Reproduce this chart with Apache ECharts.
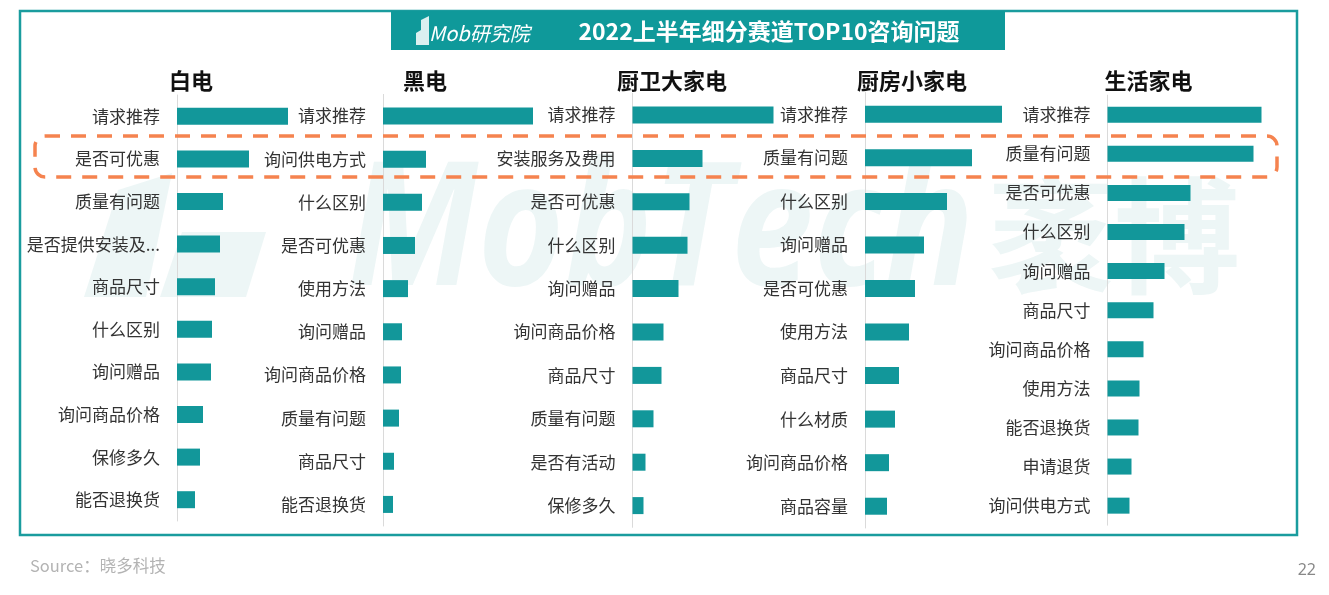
<!DOCTYPE html>
<html>
<head>
<meta charset="utf-8">
<script src="https://cdn.jsdelivr.net/npm/echarts@6/dist/echarts.min.js"></script>
<style>
html,body{margin:0;padding:0;background:#fff;}
#main{width:1329px;height:595px;}
</style>
</head>
<body>
<div id="main"></div>
<script>
const panelTitles = ['白电', '黑电', '厨卫大家电', '厨房小家电', '生活家电'];

const cat1 = ['请求推荐','是否可优惠','质量有问题','是否提供安装及...','商品尺寸','什么区别','询问赠品','询问商品价格','保修多久','能否退换货'];
const val1 = [111, 72, 46, 43, 38, 35, 34, 26, 23, 18];

const cat2 = ['请求推荐','询问供电方式','什么区别','是否可优惠','使用方法','询问赠品','询问商品价格','质量有问题','商品尺寸','能否退换货'];
const val2 = [150, 43, 39, 32, 25, 19, 18, 16, 11, 10];

const cat3 = ['请求推荐','安装服务及费用','是否可优惠','什么区别','询问赠品','询问商品价格','商品尺寸','质量有问题','是否有活动','保修多久'];
const val3 = [141, 70, 57, 55, 46, 31, 29, 21, 13, 11];

const cat4 = ['请求推荐','质量有问题','什么区别','询问赠品','是否可优惠','使用方法','商品尺寸','什么材质','询问商品价格','商品容量'];
const val4 = [137, 107, 82, 59, 50, 44, 34, 30, 24, 22];

const cat5 = ['请求推荐','质量有问题','是否可优惠','什么区别','询问赠品','商品尺寸','询问商品价格','使用方法','能否退换货','申请退货','询问供电方式'];
const val5 = [154, 146, 83, 77, 57, 46, 36, 32, 31, 24, 22];

const mainTitle = '2022上半年细分赛道TOP10咨询问题';
const sourceText = 'Source：晓多科技';
const pageNo = '22';

const cats = [cat1, cat2, cat3, cat4, cat5];
const vals = [val1, val2, val3, val4, val5];

const gridDefs = [
  {left: 177, top: 95, height: 426},
  {left: 383, top: 94.4, height: 431.6},
  {left: 632.5, top: 93.3, height: 434},
  {left: 865, top: 92.5, height: 435.5},
  {left: 1107.5, top: 95.2, height: 430}
];
const titleCenters = [191, 425, 672, 912, 1148.5];

const FONT = '"Noto Sans CJK SC", "Noto Sans", sans-serif';
const BAR = '#12979a';
const TEAL = '#1a9c9e';
const WM = 'rgba(20,140,140,0.075)';

const grids = [], xAxes = [], yAxes = [], series = [];
for (let i = 0; i < 5; i++) {
  grids.push({left: gridDefs[i].left, top: gridDefs[i].top, height: gridDefs[i].height, width: 170, containLabel: false});
  xAxes.push({type: 'value', gridIndex: i, min: 0, max: 170, show: false});
  yAxes.push({
    type: 'category', gridIndex: i, inverse: true, data: cats[i],
    axisLine: {show: true, lineStyle: {color: '#dadada', width: 1}},
    axisTick: {show: false},
    splitLine: {show: false},
    axisLabel: {color: '#333', fontSize: 17, fontFamily: FONT, margin: 17}
  });
  series.push({
    type: 'bar', xAxisIndex: i, yAxisIndex: i, data: vals[i],
    barWidth: i === 4 ? 16 : 17,
    itemStyle: {color: BAR},
    silent: true
  });
}

const graphics = [
  // watermark logo + text
  {type: 'polygon', z: -10, silent: true,
   shape: {points: [[84, 297], [118, 190], [172, 173], [146, 297]]}, style: {fill: WM}},
  {type: 'polygon', z: -10, silent: true,
   shape: {points: [[160, 297], [182, 232], [266, 232], [246, 297]]}, style: {fill: WM}},
  {type: 'text', x: 305, y: 236, z: -10, silent: true, scaleX: 0.86, originX: 305, originY: 236,
   style: {text: 'MobTech', font: 'italic bold 172px "Open Sans", sans-serif', fill: WM, textVerticalAlign: 'middle'}},
  {type: 'text', x: 988, y: 236, z: -10, silent: true,
   style: {text: '袤博', font: 'bold 126px "Noto Sans CJK SC", sans-serif', fill: WM, textVerticalAlign: 'middle'}},
  // frame
  {type: 'rect', shape: {x: 20, y: 11, width: 1277, height: 524}, silent: true, z: 1,
   style: {fill: 'none', stroke: TEAL, lineWidth: 2.5}},
  // title bar
  {type: 'rect', shape: {x: 391, y: 11, width: 614, height: 39}, silent: true, z: 2,
   style: {fill: '#0f999a'}},
  {type: 'text', x: 769, y: 31, silent: true, z: 3,
   style: {text: mainTitle, fill: '#fff', font: 'bold 23px "Noto Sans CJK SC", sans-serif', textAlign: 'center', textVerticalAlign: 'middle'}},
  // logo
  {type: 'polygon', shape: {points: [[416, 45], [416, 33], [421, 30], [421, 20], [429, 16], [429, 45]]}, silent: true, z: 3,
   style: {fill: 'rgba(255,255,255,0.85)'}},
  {type: 'text', x: 429, y: 33, silent: true, z: 3,
   style: {text: 'Mob研究院', fill: '#fff', font: 'italic 20px "Noto Sans CJK SC", sans-serif', textVerticalAlign: 'middle'}},
  // dashed highlight
  {type: 'rect', shape: {x: 35, y: 136, width: 1242, height: 41, r: 10}, silent: true, z: 20,
   style: {fill: 'none', stroke: '#f5834f', lineWidth: 3.5, lineDash: [15, 11]}},
  // footer
  {type: 'text', x: 30, y: 566, silent: true,
   style: {text: sourceText, fill: '#b3b3b3', font: '16.5px "Noto Sans CJK SC", sans-serif', textVerticalAlign: 'middle'}},
  {type: 'text', x: 1316, y: 570, silent: true,
   style: {text: pageNo, fill: '#888', font: '16px "Noto Sans", sans-serif', textAlign: 'right', textVerticalAlign: 'middle'}}
];
for (let i = 0; i < 5; i++) {
  graphics.push({type: 'text', x: titleCenters[i], y: 81, silent: true, z: 5,
    style: {text: panelTitles[i], fill: '#111', font: 'bold 22px "Noto Sans CJK SC", sans-serif', textAlign: 'center', textVerticalAlign: 'middle'}});
}

const chart = echarts.init(document.getElementById('main'), null, {renderer: 'canvas'});
chart.setOption({
  animation: false,
  backgroundColor: '#fff',
  grid: grids,
  xAxis: xAxes,
  yAxis: yAxes,
  series: series,
  graphic: graphics
});
</script>
</body>
</html>
